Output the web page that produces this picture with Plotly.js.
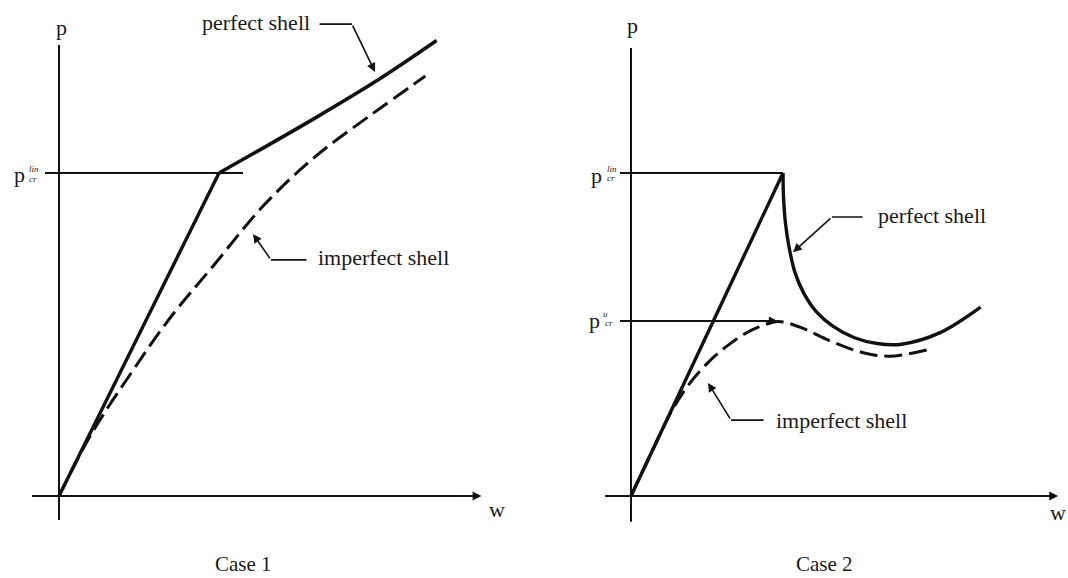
<!DOCTYPE html>
<html>
<head>
<meta charset="utf-8">
<script src="https://cdn.plot.ly/plotly-3.0.1.min.js"></script>
<style>
  html, body { margin: 0; padding: 0; background: #fff; }
  #chart { width: 1068px; height: 578px; }
</style>
</head>
<body>
<div id="chart"></div>
<script>
// Load p versus deflection w, normalised so that p_cr^lin = 1 and w = 1 at the linear buckling load.

// Case 1: stable post-buckling
const case1PreW = [0, 1];
const case1PreP = [0, 1];
const case1PostW = [1, 1.6, 2.0, 2.36];
const case1PostP = [1, 1.17, 1.29, 1.41];
const case1ImpW = [0, 0.2, 0.45, 0.7, 0.96, 1.28, 1.6, 1.95, 2.29];
const case1ImpP = [0, 0.19, 0.38, 0.555, 0.71, 0.90, 1.05, 1.18, 1.30];

// Case 2: unstable post-buckling with a snap-through
const case2PreW = [0, 1];
const case2PreP = [0, 1];
const case2PostW = [1, 1.003, 1.015, 1.04, 1.08, 1.14, 1.22, 1.33, 1.47, 1.62, 1.78, 2.03, 2.30];
const case2PostP = [1, 0.93, 0.85, 0.77, 0.69, 0.625, 0.57, 0.525, 0.49, 0.472, 0.47, 0.505, 0.585];
const case2ImpW = [0, 0.15, 0.27, 0.38, 0.5, 0.62, 0.74, 0.86, 0.97, 1.11, 1.31, 1.51, 1.70, 1.97];
const case2ImpP = [0, 0.15, 0.265, 0.345, 0.41, 0.46, 0.5, 0.527, 0.54, 0.523, 0.48, 0.446, 0.433, 0.455];

// Critical loads
const pcrLin = 1;
const pcrU = 0.542;

const ink = '#111';
const serif = 'Liberation Serif, Times New Roman, serif';

function line(xs, ys, axis, opts) {
  return Object.assign({
    x: xs, y: ys, mode: 'lines', type: 'scatter', hoverinfo: 'skip',
    xaxis: 'x' + axis, yaxis: 'y' + axis,
    line: { color: ink, width: 3.4 }
  }, opts || {});
}

const traces = [
  // axes and reference lines, case 1
  line([0, 0], [-0.074, 1.396], '', { line: { color: ink, width: 2 } }),
  line([-0.169, 2.62], [0, 0], '', { line: { color: ink, width: 2 } }),
  line([-0.0875, 1.15], [pcrLin, pcrLin], '', { line: { color: ink, width: 2 } }),
  // case 1 curves
  line(case1PreW, case1PreP, ''),
  line(case1PostW, case1PostP, '', { line: { color: ink, width: 3.6, shape: 'spline' } }),
  line(case1ImpW, case1ImpP, '', { line: { color: ink, width: 3, dash: '18px,7px', shape: 'spline' } }),

  // axes and reference lines, case 2
  line([0, 0], [-0.080, 1.387], '2', { line: { color: ink, width: 2 } }),
  line([-0.171, 2.79], [0, 0], '2', { line: { color: ink, width: 2 } }),
  line([-0.072, 1.0], [pcrLin, pcrLin], '2', { line: { color: ink, width: 2 } }),
  line([-0.072, 0.94], [pcrU, pcrU], '2', { line: { color: ink, width: 2 } }),
  // case 2 curves
  line(case2PreW, case2PreP, '2'),
  line(case2PostW, case2PostP, '2', { line: { color: ink, width: 3.4, shape: 'spline', smoothing: 1 } }),
  line(case2ImpW, case2ImpP, '2', { line: { color: ink, width: 3, dash: '18px,7px', shape: 'spline' } })
];

function label(text, x, y, axis, size, xanchor, extra) {
  return Object.assign({
    text: text, x: x, y: y, xref: 'x' + axis, yref: 'y' + axis,
    showarrow: false, xanchor: xanchor || 'center', yanchor: 'middle',
    font: { family: serif, size: size, color: '#1a1a1a' }
  }, extra || {});
}

function arrow(x, y, ax, ay, axis, head) {
  return {
    x: x, y: y, ax: ax, ay: ay, xref: 'x' + axis, yref: 'y' + axis,
    axref: 'x' + axis, ayref: 'y' + axis, text: '', showarrow: true,
    arrowhead: head === undefined ? 2 : head, arrowsize: 1.1, arrowwidth: 1.6, arrowcolor: ink
  };
}

const annotations = [
  // case 1 text
  label('p', 0.0125, 1.452, '', 22),
  label('w', 2.74, -0.043, '', 22),
  label('Case 1', 1.15, -0.212, '', 21),
  label('p', -0.244, 0.994, '', 22),
  label('<i>lin</i>', -0.156, 1.012, '', 9),
  label('<i>cr</i>', -0.1625, 0.981, '', 9),
  label('perfect shell', 1.581, 1.4675, '', 22, 'right'),
  label('imperfect shell', 1.606, 0.737, '', 22, 'left'),
  // case 1 arrows
  arrow(2.64, 0, 2.5, 0, '', 2),
  arrow(1.975, 1.313, 1.831, 1.461, '', 2),
  arrow(1.831, 1.461, 1.619, 1.461, '', 0),
  arrow(1.2125, 0.811, 1.325, 0.731, '', 2),
  arrow(1.325, 0.731, 1.556, 0.731, '', 0),

  // case 2 text
  label('p', 0.0066, 1.458, '2', 22),
  label('w', 2.875, -0.05, '2', 22, 'right'),
  label('Case 2', 1.276, -0.212, '2', 21),
  label('p', -0.224, 0.991, '2', 22),
  label('<i>lin</i>', -0.125, 1.012, '2', 9),
  label('<i>cr</i>', -0.132, 0.984, '2', 9),
  label('p', -0.237, 0.542, '2', 22),
  label('<i>u</i>', -0.168, 0.565, '2', 9),
  label('<i>cr</i>', -0.148, 0.536, '2', 9),
  label('perfect shell', 1.612, 0.867, '2', 22, 'left'),
  label('imperfect shell', 0.941, 0.235, '2', 22, 'left'),
  // case 2 arrows
  arrow(2.81, 0, 2.65, 0, '2', 2),
  arrow(0.965, pcrU, 0.85, pcrU, '2', 2),
  arrow(1.066, 0.755, 1.322, 0.864, '2', 2),
  arrow(1.322, 0.864, 1.533, 0.864, '2', 0),
  arrow(0.507, 0.350, 0.658, 0.235, '2', 2),
  arrow(0.658, 0.235, 0.882, 0.235, '2', 0)
];

const hidden = { visible: false, fixedrange: true };

const layout = {
  width: 1068, height: 578,
  margin: { l: 0, r: 0, t: 0, b: 0 },
  paper_bgcolor: '#fff', plot_bgcolor: '#fff',
  showlegend: false,
  xaxis: Object.assign({ domain: [0, 0.5], range: [-0.36875, 2.96875], anchor: 'y' }, hidden),
  yaxis: Object.assign({ domain: [0, 1], range: [-0.25387, 1.5356], anchor: 'x' }, hidden),
  xaxis2: Object.assign({ domain: [0.5, 1], range: [-0.63816, 2.875], anchor: 'y2' }, hidden),
  yaxis2: Object.assign({ domain: [0, 1], range: [-0.25387, 1.5356], anchor: 'x2' }, hidden),
  annotations: annotations
};

Plotly.newPlot('chart', traces, layout, { staticPlot: true, displayModeBar: false });
</script>
</body>
</html>
